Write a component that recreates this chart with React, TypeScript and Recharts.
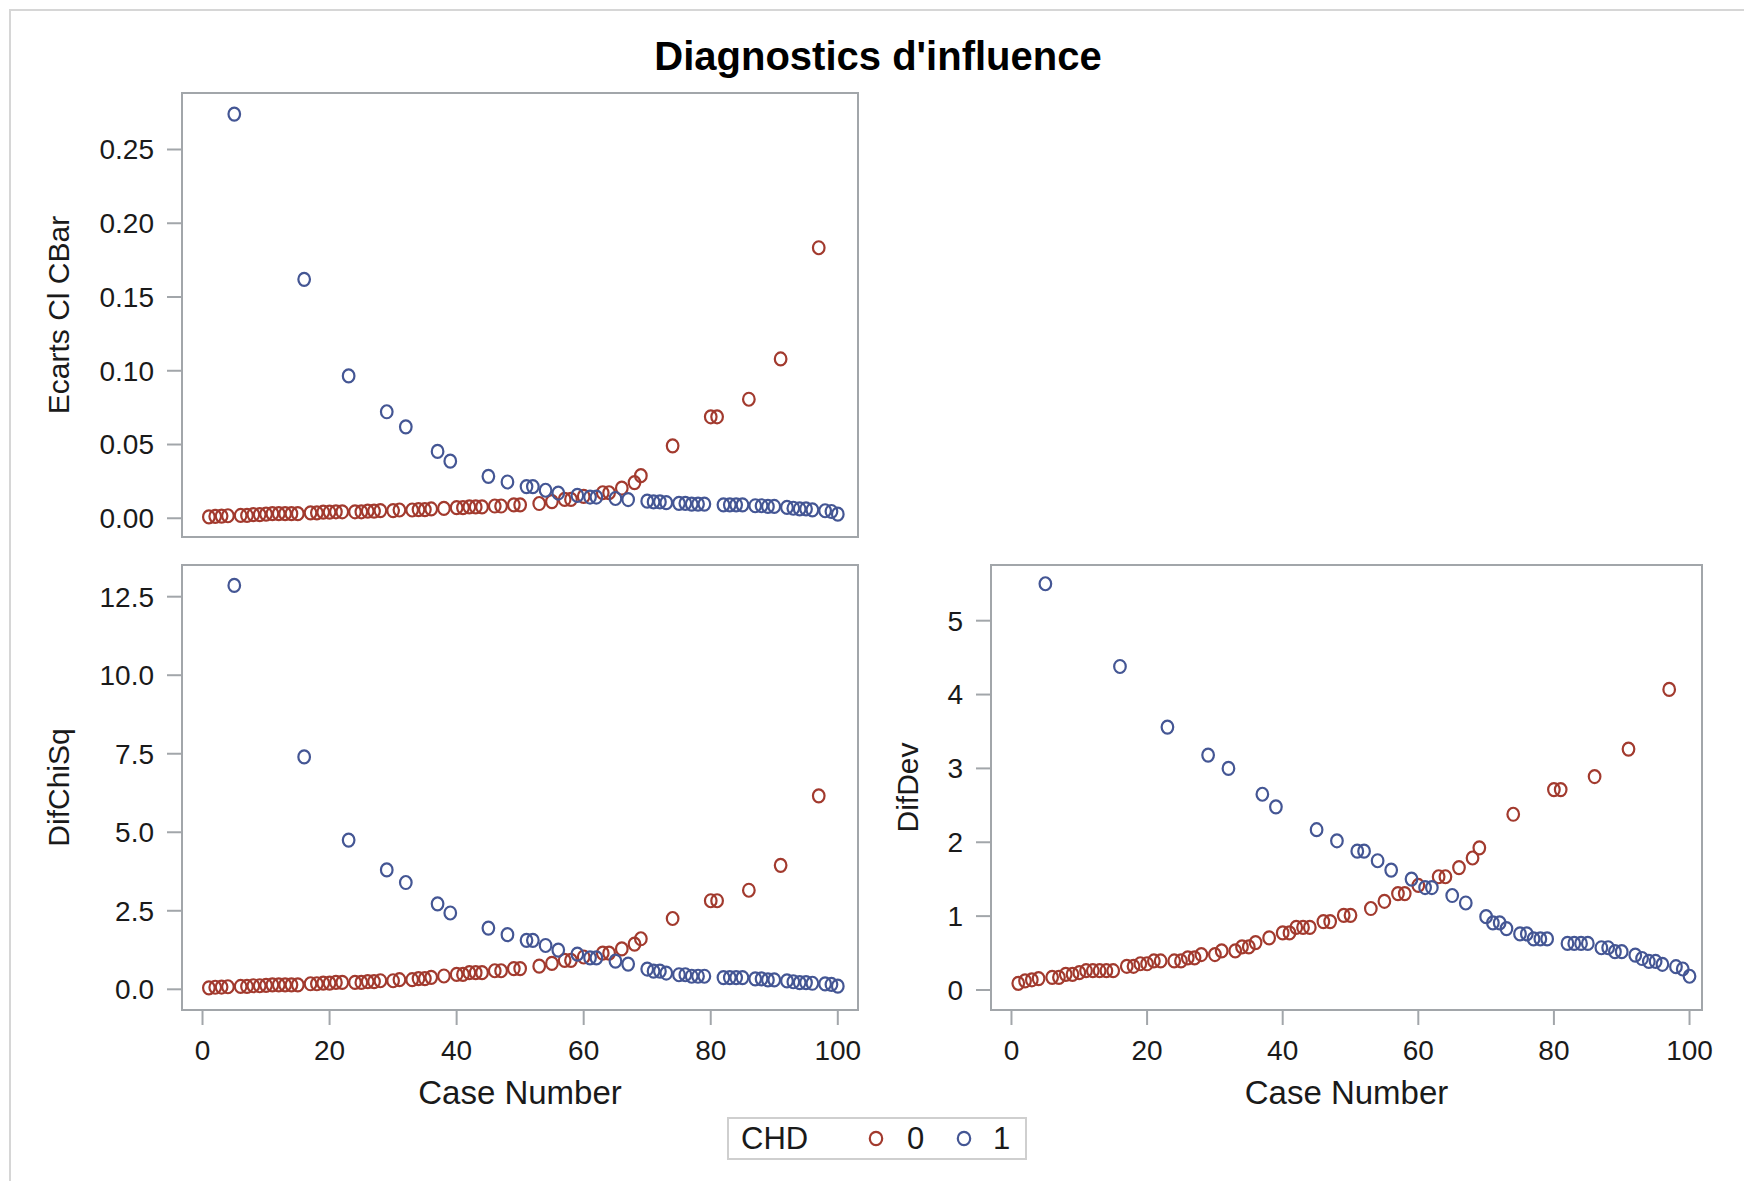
import React from 'react';
import { ScatterChart, Scatter, XAxis, YAxis, ReferenceArea, Legend } from 'recharts';

// case number, group (CHD) and the three influence diagnostics, one value per case
const caseNumber = [
  1, 2, 3, 4, 5, 6, 7, 8, 9, 10, 11, 12, 13, 14, 15, 16, 17, 18, 19, 20,
  21, 22, 23, 24, 25, 26, 27, 28, 29, 30, 31, 32, 33, 34, 35, 36, 37, 38, 39, 40,
  41, 42, 43, 44, 45, 46, 47, 48, 49, 50, 51, 52, 53, 54, 55, 56, 57, 58, 59, 60,
  61, 62, 63, 64, 65, 66, 67, 68, 69, 70, 71, 72, 73, 74, 75, 76, 77, 78, 79, 80,
  81, 82, 83, 84, 85, 86, 87, 88, 89, 90, 91, 92, 93, 94, 95, 96, 97, 98, 99, 100,
];

const chd = [
  0, 0, 0, 0, 1, 0, 0, 0, 0, 0,
  0, 0, 0, 0, 0, 1, 0, 0, 0, 0,
  0, 0, 1, 0, 0, 0, 0, 0, 1, 0,
  0, 1, 0, 0, 0, 0, 1, 0, 1, 0,
  0, 0, 0, 0, 1, 0, 0, 1, 0, 0,
  1, 1, 0, 1, 0, 1, 0, 0, 1, 0,
  1, 1, 0, 0, 1, 0, 1, 0, 0, 1,
  1, 1, 1, 0, 1, 1, 1, 1, 1, 0,
  0, 1, 1, 1, 1, 0, 1, 1, 1, 1,
  0, 1, 1, 1, 1, 1, 0, 1, 1, 1,
];

const cbar = [
  0.0009, 0.0013, 0.0015, 0.0017, 0.274, 0.0019, 0.0019, 0.0025, 0.0025, 0.0028,
  0.0031, 0.0031, 0.0031, 0.0031, 0.0031, 0.162, 0.0037, 0.0037, 0.0041, 0.0041,
  0.0044, 0.0044, 0.0965, 0.0044, 0.0044, 0.0048, 0.0048, 0.0052, 0.0722, 0.0052,
  0.0056, 0.062, 0.0056, 0.0059, 0.0059, 0.0063, 0.0453, 0.0067, 0.0387, 0.0072,
  0.0072, 0.0077, 0.0077, 0.0077, 0.0284, 0.0083, 0.0083, 0.0246, 0.0091, 0.0091,
  0.0215, 0.0215, 0.01, 0.019, 0.0113, 0.0171, 0.0128, 0.0128, 0.0155, 0.0148,
  0.0144, 0.0144, 0.0173, 0.0173, 0.0134, 0.0204, 0.0127, 0.0242, 0.0289, 0.0116,
  0.0111, 0.0111, 0.0106, 0.0491, 0.0101, 0.0101, 0.0096, 0.0096, 0.0096, 0.0688,
  0.0688, 0.0091, 0.0091, 0.0091, 0.0091, 0.0807, 0.0085, 0.0085, 0.008, 0.008,
  0.108, 0.0074, 0.0068, 0.0063, 0.0063, 0.0057, 0.1834, 0.0051, 0.0046, 0.0028,
];

const difChiSq = [
  0.046, 0.065, 0.072, 0.081, 12.86, 0.09, 0.09, 0.113, 0.113, 0.126,
  0.141, 0.141, 0.141, 0.141, 0.141, 7.4, 0.176, 0.176, 0.196, 0.196,
  0.219, 0.219, 4.75, 0.219, 0.219, 0.245, 0.245, 0.273, 3.8, 0.273,
  0.305, 3.4, 0.305, 0.341, 0.341, 0.38, 2.72, 0.424, 2.43, 0.474,
  0.474, 0.529, 0.529, 0.529, 1.95, 0.591, 0.591, 1.74, 0.66, 0.66,
  1.56, 1.56, 0.737, 1.395, 0.824, 1.248, 0.921, 0.921, 1.118, 1.029,
  1.001, 1.001, 1.151, 1.151, 0.896, 1.287, 0.803, 1.439, 1.609, 0.645,
  0.578, 0.578, 0.518, 2.254, 0.464, 0.464, 0.416, 0.416, 0.416, 2.82,
  2.82, 0.373, 0.373, 0.373, 0.373, 3.154, 0.334, 0.334, 0.299, 0.299,
  3.947, 0.268, 0.24, 0.215, 0.215, 0.192, 6.16, 0.172, 0.154, 0.099,
];

const difDev = [
  0.09, 0.124, 0.138, 0.154, 5.5, 0.171, 0.171, 0.212, 0.212, 0.235,
  0.261, 0.261, 0.261, 0.261, 0.261, 4.38, 0.321, 0.321, 0.355, 0.355,
  0.393, 0.393, 3.56, 0.393, 0.393, 0.435, 0.435, 0.48, 3.18, 0.48,
  0.529, 3.0, 0.529, 0.583, 0.583, 0.642, 2.65, 0.705, 2.48, 0.773,
  0.773, 0.847, 0.847, 0.847, 2.17, 0.926, 0.926, 2.02, 1.011, 1.011,
  1.88, 1.88, 1.103, 1.75, 1.201, 1.623, 1.305, 1.305, 1.502, 1.415,
  1.387, 1.387, 1.533, 1.533, 1.279, 1.657, 1.178, 1.787, 1.925, 0.993,
  0.909, 0.909, 0.831, 2.379, 0.759, 0.759, 0.691, 0.691, 0.691, 2.713,
  2.713, 0.63, 0.63, 0.63, 0.63, 2.89, 0.572, 0.572, 0.519, 0.519,
  3.262, 0.471, 0.426, 0.386, 0.386, 0.348, 4.069, 0.315, 0.284, 0.186,
];

const chdLevels = [0, 1];
const caseTicks = [0, 20, 40, 60, 80, 100];
const cbarTicks = [0, 0.05, 0.1, 0.15, 0.2, 0.25];
const chiTicks = [0, 2.5, 5, 7.5, 10, 12.5];
const devTicks = [0, 1, 2, 3, 4, 5];

const FONT = '"Liberation Sans", Arial, Helvetica, sans-serif';
const FRAME = '#a2a6aa';
const INK = '#1a1a1a';
const COLORS = ['#A23A2E', '#445694'];

const ring = (color: string) => (props: any) => (
  <ellipse cx={props.cx} cy={props.cy} rx={5.8} ry={6.5} fill="none" stroke={color} strokeWidth={2.2} />
);

function LegendBox({ payload }: any) {
  const items = payload || [];
  return (
    <div style={{ position: 'relative', width: 296, height: 39, border: '2px solid #cfcfcf', background: '#fff', fontFamily: FONT, fontSize: 31, color: INK }}>
      <span style={{ position: 'absolute', left: 12, top: 0, lineHeight: '39px' }}>CHD</span>
      {items.map((entry: any, i: number) => (
        <React.Fragment key={entry.value}>
          <svg style={{ position: 'absolute', left: 138 + i * 88, top: 10 }} width={18} height={19}>
            <ellipse cx={9} cy={9.5} rx={6.2} ry={6.6} fill="none" stroke={entry.color} strokeWidth={2.2} />
          </svg>
          <span style={{ position: 'absolute', left: 178 + i * 86, top: 0, lineHeight: '39px' }}>{entry.value}</span>
        </React.Fragment>
      ))}
    </div>
  );
}

type PanelProps = {
  left: number;
  top: number;
  width: number;
  height: number;
  margin: { top: number; right: number; bottom: number; left: number };
  yWidth: number;
  xHeight: number;
  xDomain: [number, number];
  yDomain: [number, number];
  yTicks: number[];
  yFormat: (v: number) => string;
  values: number[];
  yTitle: string;
  yTitleX: number;
  showX: boolean;
  withLegend?: boolean;
};

function Panel(p: PanelProps) {
  const series = chdLevels.map((lvl) =>
    caseNumber
      .map((c, i) => ({ x: c, y: p.values[i], g: chd[i] }))
      .filter((pt) => pt.g === lvl)
  );
  const tickStyle = { fill: INK, fontSize: 28, fontFamily: FONT };
  const tickLine = { stroke: FRAME, strokeWidth: 2 };
  return (
    <div style={{ position: 'absolute', left: p.left, top: p.top }}>
      <ScatterChart width={p.width} height={p.height} margin={p.margin}>
        <XAxis
          type="number"
          dataKey="x"
          domain={p.xDomain}
          allowDataOverflow
          ticks={p.showX ? caseTicks : []}
          interval={0}
          height={p.xHeight}
          axisLine={false}
          tick={p.showX ? tickStyle : false}
          tickLine={p.showX ? tickLine : false}
          tickSize={15}
          tickMargin={15}
          label={
            p.showX
              ? { value: 'Case Number', position: 'insideTop', offset: 71, fill: INK, fontSize: 33, fontFamily: FONT }
              : undefined
          }
        />
        <YAxis
          type="number"
          dataKey="y"
          domain={p.yDomain}
          allowDataOverflow
          ticks={p.yTicks}
          interval={0}
          width={p.yWidth}
          tickFormatter={p.yFormat}
          axisLine={false}
          tick={tickStyle}
          tickLine={tickLine}
          tickSize={15}
          tickMargin={13}
          label={{
            value: p.yTitle,
            angle: -90,
            position: 'insideLeft',
            offset: p.yTitleX,
            fill: INK,
            fontSize: 30,
            fontFamily: FONT,
            style: { textAnchor: 'middle' },
          }}
        />
        <ReferenceArea
          x1={p.xDomain[0]}
          x2={p.xDomain[1]}
          y1={p.yDomain[0]}
          y2={p.yDomain[1]}
          fill="none"
          stroke={FRAME}
          strokeWidth={2}
          ifOverflow="visible"
        />
        {series.map((pts, i) => (
          <Scatter
            key={chdLevels[i]}
            name={String(chdLevels[i])}
            data={pts}
            fill={COLORS[i]}
            shape={ring(COLORS[i])}
            isAnimationActive={false}
          />
        ))}
        {p.withLegend && (
          <Legend
            layout="vertical"
            align="center"
            verticalAlign="middle"
            content={<LegendBox />}
            wrapperStyle={{ left: 727, top: 577, width: 300 }}
          />
        )}
      </ScatterChart>
    </div>
  );
}

export default function App() {
  return (
    <div style={{ position: 'absolute', left: 0, top: 0, width: 1744, height: 1181, background: '#fff', overflow: 'hidden', fontFamily: FONT }}>
      <div style={{ position: 'absolute', left: 9, top: 9, width: 1760, height: 1200, borderTop: '2px solid #d6d6d6', borderLeft: '2px solid #d6d6d6' }} />
      <div style={{ position: 'absolute', left: 478, top: 36, width: 800, textAlign: 'center', fontSize: 40, lineHeight: '40px', fontWeight: 'bold', color: '#000' }}>
        Diagnostics d'influence
      </div>
      <Panel
        left={0}
        top={0}
        width={880}
        height={560}
        margin={{ top: 93, right: 22, bottom: 23, left: 0 }}
        yWidth={182}
        xHeight={0}
        xDomain={[-3.23, 103.18]}
        yDomain={[-0.0127, 0.2883]}
        yTicks={cbarTicks}
        yFormat={(v) => v.toFixed(2)}
        values={cbar}
        yTitle="Ecarts Cl CBar"
        yTitleX={58}
        showX={false}
      />
      <Panel
        left={0}
        top={540}
        width={880}
        height={641}
        margin={{ top: 25, right: 22, bottom: 51, left: 0 }}
        yWidth={182}
        xHeight={120}
        xDomain={[-3.23, 103.18]}
        yDomain={[-0.659, 13.509]}
        yTicks={chiTicks}
        yFormat={(v) => v.toFixed(1)}
        values={difChiSq}
        yTitle="DifChiSq"
        yTitleX={58}
        showX={true}
        withLegend
      />
      <Panel
        left={880}
        top={540}
        width={864}
        height={641}
        margin={{ top: 25, right: 42, bottom: 51, left: 0 }}
        yWidth={111}
        xHeight={120}
        xDomain={[-3.02, 101.84]}
        yDomain={[-0.271, 5.754]}
        yTicks={devTicks}
        yFormat={(v) => String(v)}
        values={difDev}
        yTitle="DifDev"
        yTitleX={27}
        showX={true}
      />
    </div>
  );
}
